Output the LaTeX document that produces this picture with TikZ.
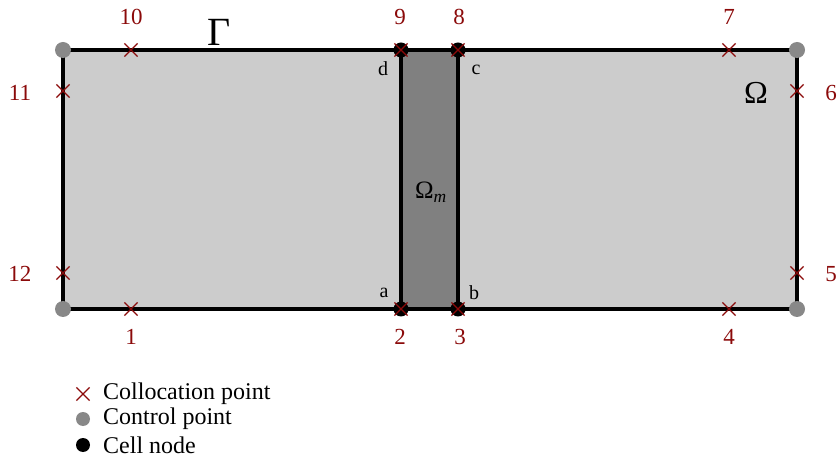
\documentclass[tikz,border=0pt]{standalone}
\usepackage{fontspec}
\setmainfont{Liberation Serif}
\usetikzlibrary{shapes.misc}
\definecolor{xred}{HTML}{8B0A0A}
\definecolor{lgray}{HTML}{CCCCCC}
\definecolor{dgray}{HTML}{808080}
\definecolor{cgray}{HTML}{888888}
\tikzset{
  xmark/.style={cross out, draw=xred, line width=1.2pt, minimum size=12pt, inner sep=0pt},
  ctrl/.style={circle, fill=cgray, minimum size=16pt, inner sep=0pt},
  cell/.style={circle, fill=black, minimum size=15pt, inner sep=0pt},
  numlab/.style={text=xred, font=\fontsize{23}{25}\selectfont, inner sep=0pt},
  corner/.style={font=\fontsize{20}{22}\selectfont, inner sep=0pt},
  edge/.style={line width=3.2pt},
  legtext/.style={anchor=west, font=\fontsize{24}{26}\selectfont, inner sep=0pt}
}
\begin{document}
\begin{tikzpicture}[x=1pt,y=-1pt]
\useasboundingbox (0,0) rectangle (838,462);
% regions
\fill[lgray] (63,50) rectangle (797,309);
\fill[dgray] (401,50) rectangle (458,309);
% coordinates
\coordinate (TL) at (63,50);
\coordinate (TR) at (797,50);
\coordinate (BL) at (63,309);
\coordinate (BR) at (797,309);
\coordinate (a) at (401,309);
\coordinate (b) at (458,309);
\coordinate (c) at (458,50);
\coordinate (d) at (401,50);
% edges
\draw[edge, line join=miter] (TL) -- (TR) -- (BR) -- (BL) -- cycle;
\draw[edge] (d) -- (a);
\draw[edge] (c) -- (b);
% control points
\node[ctrl] (cp1) at (TL) {};
\node[ctrl] (cp2) at (TR) {};
\node[ctrl] (cp3) at (BL) {};
\node[ctrl] (cp4) at (BR) {};
% cell nodes
\node[cell] (na) at (a) {};
\node[cell] (nb) at (b) {};
\node[cell] (nc) at (c) {};
\node[cell] (nd) at (d) {};
% collocation points
\node[xmark] (x1) at (131,309) {};
\node[xmark] (x2) at (401,309) {};
\node[xmark] (x3) at (458,309) {};
\node[xmark] (x4) at (729,309) {};
\node[xmark] (x5) at (797,273) {};
\node[xmark] (x6) at (797,91) {};
\node[xmark] (x7) at (729,50) {};
\node[xmark] (x8) at (458,50) {};
\node[xmark] (x9) at (401,50) {};
\node[xmark] (x10) at (131,50) {};
\node[xmark] (x11) at (63,91) {};
\node[xmark] (x12) at (63,273) {};
% numbers
\node[numlab] (l1) at (131,337) {1};
\node[numlab] (l2) at (400,337) {2};
\node[numlab] (l3) at (460,337) {3};
\node[numlab] (l4) at (729,337) {4};
\node[numlab] (l5) at (831,274) {5};
\node[numlab] (l6) at (831,93) {6};
\node[numlab] (l7) at (729,17) {7};
\node[numlab] (l8) at (459,17) {8};
\node[numlab] (l9) at (400,17) {9};
\node[numlab] (l10) at (131,17) {10};
\node[numlab] (l11) at (20,93) {11};
\node[numlab] (l12) at (20,274) {12};
% corner letters
\node[corner] (ld) at (383,69) {d};
\node[corner] (lc) at (476,70) {c};
\node[corner] (la) at (384,293) {a};
\node[corner] (lb) at (474,293) {b};
% region labels
\node[inner sep=0pt, font=\fontsize{40}{42}\selectfont] (gam) at (219,32) {Γ};
\node[inner sep=0pt, font=\fontsize{32}{34}\selectfont] (om) at (756,93) {Ω};
\node[inner sep=0pt, font=\fontsize{25}{27}\selectfont] (omm) at (431,192) {Ω\textsubscript{\textit{m}}};
% legend
\node[xmark] (lgx) at (83,394) {};
\node[ctrl, minimum size=14pt] (lgc) at (83,419) {};
\node[cell, minimum size=14pt] (lgn) at (83,445) {};
\node[legtext] (tx) at (103,394) {Collocation point};
\node[legtext] (tc) at (103,419) {Control point};
\node[legtext] (tn) at (103,445) {Cell node};
\end{tikzpicture}
\end{document}
